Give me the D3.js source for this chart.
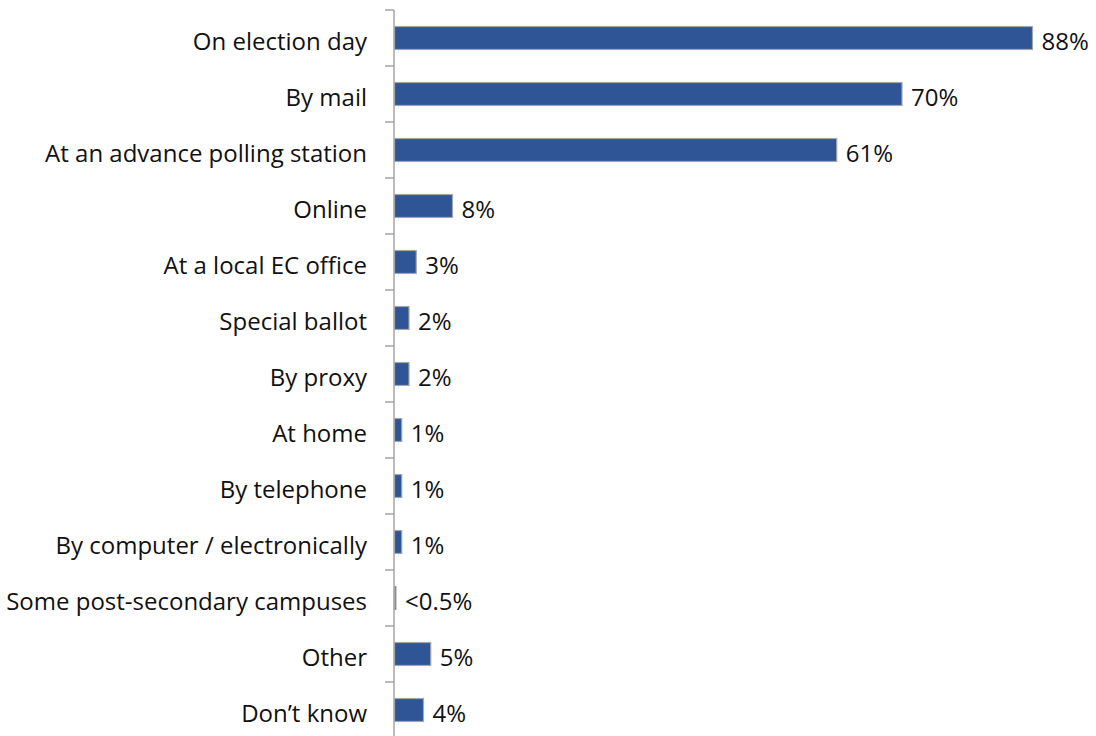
<!DOCTYPE html>
<html><head><meta charset="utf-8">
<script src="https://cdn.jsdelivr.net/npm/d3@7"></script>
<style>
html,body{margin:0;padding:0;background:#fff;}
svg text{font-family:"Open Sans",sans-serif;fill:#111;}
</style></head>
<body>
<svg id="chart" width="1096" height="736"></svg>
<script>
const categories = ["On election day","By mail","At an advance polling station","Online","At a local EC office","Special ballot","By proxy","At home","By telephone","By computer / electronically","Some post-secondary campuses","Other","Don\u2019t know"];
const values = [88,70,61,8,3,2,2,1,1,1,0.2,5,4];
const valueLabels = ["88%","70%","61%","8%","3%","2%","2%","1%","1%","1%","<0.5%","5%","4%"];

const svg = d3.select("#chart");
const x = d3.scaleLinear().domain([0,100]).range([394.5,1119.5]);
const y = d3.scaleBand().domain(categories).range([10,738]).paddingInner(0.59).paddingOuter(0.295);
const band = d3.scaleBand().domain(categories).range([10,738]);

svg.append("line").attr("x1",394).attr("x2",394).attr("y1",10).attr("y2",736)
  .attr("stroke","#a6a6a6").attr("stroke-width",1.5);
const tickYs = categories.map(c=>band(c)).concat([738]);
svg.selectAll("line.tick").data(tickYs).join("line").attr("class","tick")
  .attr("x1",385).attr("x2",394).attr("y1",d=>d).attr("y2",d=>d)
  .attr("stroke","#a6a6a6").attr("stroke-width",1.5);

const data = categories.map((c,i)=>({c,v:values[i],l:valueLabels[i]}));
svg.selectAll("rect.bar").data(data).join("rect").attr("class","bar")
  .attr("x",x(0)).attr("y",d=>y(d.c)).attr("width",d=>x(d.v)-x(0)).attr("height",y.bandwidth())
  .attr("fill","#2f5597").attr("stroke","#a6a6a6").attr("stroke-width",1.2);

svg.selectAll("text.cat").data(data).join("text").attr("class","cat")
  .attr("x",367).attr("y",d=>y(d.c)+y.bandwidth()/2+11.5)
  .attr("text-anchor","end").attr("font-size",24).text(d=>d.c);

svg.selectAll("text.val").data(data).join("text").attr("class","val")
  .attr("x",d=>x(d.v)+9).attr("y",d=>y(d.c)+y.bandwidth()/2+11.5)
  .attr("font-size",24).text(d=>d.l);
</script>
</body></html>
